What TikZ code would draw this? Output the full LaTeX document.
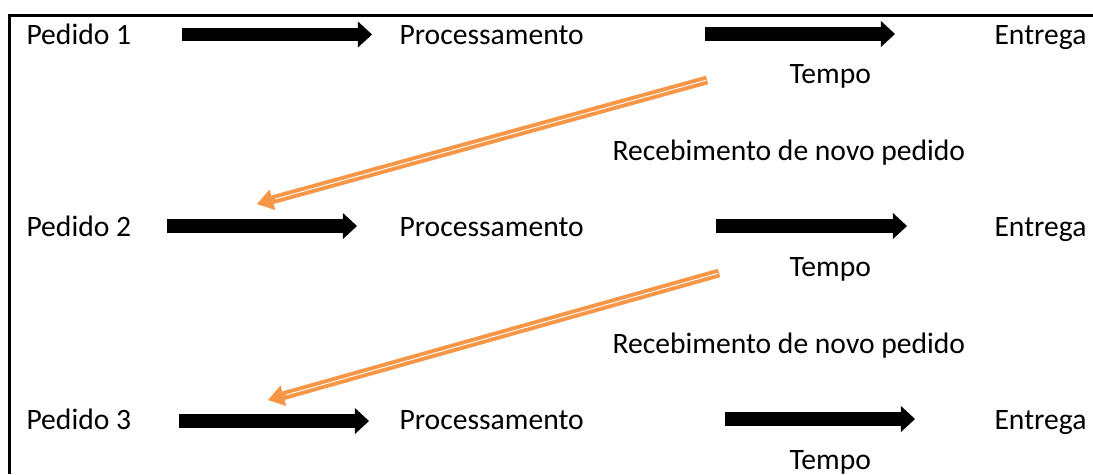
\documentclass[tikz,border=0pt]{standalone}
\usepackage{fontspec}
\setmainfont{Carlito}
\usetikzlibrary{arrows.meta}

\definecolor{laranja}{HTML}{F79646}

\tikzset{
    rotulo/.style={anchor=base west,inner sep=0pt,font=\fontsize{11.1}{13}\selectfont},
    seta/.style={line width=4.9pt,-{Triangle[length=5.3pt,width=9.8pt,line width=0pt]}},
    retorno/.style={draw=laranja,line width=3.3pt,-{Triangle[length=6pt,width=8pt,line width=0pt]},
        postaction={draw=white,line width=0.35pt,-,shorten >=7pt,shorten <=0.5pt}}
}

\begin{document}
\begin{tikzpicture}[x=0.375pt,y=-0.375pt]
        \useasboundingbox (0,0) rectangle (1093,474);
        % moldura
        \draw[line width=1.2pt] (9.5,474) -- (9.5,15.5) -- (1093,15.5);

        % textos
        \node[rotulo] (ped1) at (26,44) {Pedido 1};
        \node[rotulo] (proc1) at (399,44) {Processamento};
        \node[rotulo] (ent1) at (994,44) {Entrega};
        \node[rotulo] (tem1) at (789,83) {Tempo};
        \node[rotulo] (rec1) at (612,160) {Recebimento de novo pedido};
        \node[rotulo] (ped2) at (26,236) {Pedido 2};
        \node[rotulo] (proc2) at (399,236) {Processamento};
        \node[rotulo] (ent2) at (994,236) {Entrega};
        \node[rotulo] (tem2) at (789,276) {Tempo};
        \node[rotulo] (rec2) at (612,353) {Recebimento de novo pedido};
        \node[rotulo] (ped3) at (26,429) {Pedido 3};
        \node[rotulo] (proc3) at (399,429) {Processamento};
        \node[rotulo] (ent3) at (994,429) {Entrega};
        \node[rotulo] (tem3) at (789,469) {Tempo};

        % pontas das setas
        \coordinate (a1) at (182,34.5);
        \coordinate (b1) at (372,34.5);
        \coordinate (c1) at (705,34);
        \coordinate (d1) at (895,34);
        \coordinate (a2) at (167,226);
        \coordinate (b2) at (357,226);
        \coordinate (c2) at (716,226);
        \coordinate (d2) at (907,226);
        \coordinate (a3) at (179,421);
        \coordinate (b3) at (369,421);
        \coordinate (c3) at (725,419);
        \coordinate (d3) at (915,419);
        \coordinate (r1) at (707,80);
        \coordinate (s1) at (257,204);
        \coordinate (r2) at (719,273);
        \coordinate (s2) at (268,400);

        \draw[seta] (a1) -- (b1);
        \draw[seta] (c1) -- (d1);
        \draw[seta] (a2) -- (b2);
        \draw[seta] (c2) -- (d2);
        \draw[seta] (a3) -- (b3);
        \draw[seta] (c3) -- (d3);

        % novo pedido
        \draw[retorno] (r1) -- (s1);
        \draw[retorno] (r2) -- (s2);
\end{tikzpicture}
\end{document}
